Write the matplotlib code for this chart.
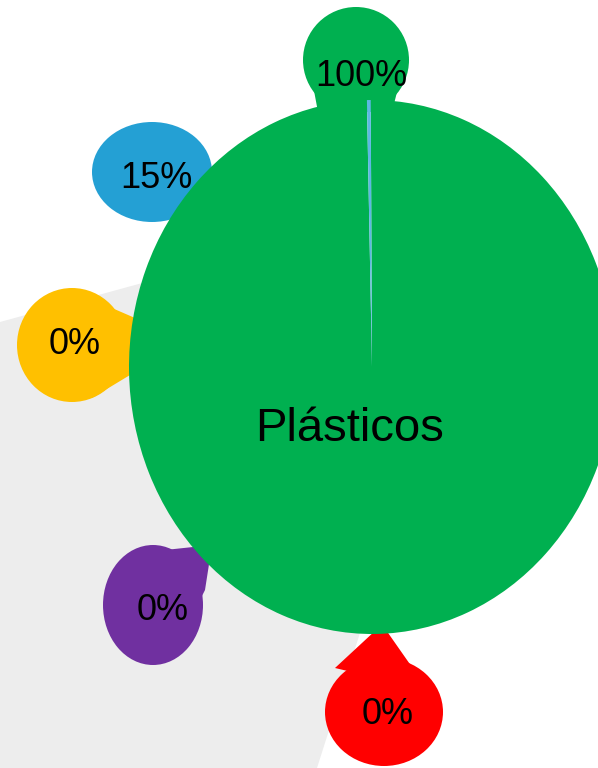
import matplotlib
matplotlib.use("Agg")
import matplotlib.pyplot as plt
from matplotlib.patches import Ellipse, Polygon

plt.rcParams['font.family'] = ['Liberation Sans', 'DejaVu Sans']

# data
center_label = "Plásticos"
pie_values = [99.75, 0.25]
pie_colors = ['#00B050', '#5DB8E2']
bubble_labels = ['100%', '15%', '0%', '0%', '0%']
bubble_colors = ['#00B050', '#24A0D4', '#FFC000', '#7030A0', '#FF0000']

# bubble layout in pixels: (cx, cy, w, h, tail polygon, label x, label y)
bubble_layout = [
    (356, 60, 106, 106, [(312, 80), (318, 112), (392, 112), (400, 80)], 361, 77),
    (152, 172, 120, 100, [(180, 140), (212, 185), (200, 225), (160, 215)], 156, 179),
    (72, 345, 110, 114, [(105, 305), (135, 318), (135, 372), (92, 398)], 75, 344),
    (153, 605, 100, 120, [(165, 550), (212, 545), (205, 590), (190, 620)], 163, 611),
    (384, 712, 118, 108, [(335, 668), (376, 630), (386, 630), (428, 690)], 388, 714),
]

fig = plt.figure(figsize=(5.98, 7.68), dpi=100)
ax = fig.add_axes([0, 0, 1, 1])
ax.set_xlim(0, 598)
ax.set_ylim(768, 0)
ax.axis('off')

# gray background shape
ax.add_patch(Polygon([(0, 322), (310, 237), (420, 400), (360, 633), (317, 768), (0, 768)],
                     closed=True, facecolor='#EDEDED', edgecolor='none'))

for (cx, cy, w, h, tail, lx, ly), color in zip(bubble_layout, bubble_colors):
    ax.add_patch(Polygon(tail, closed=True, facecolor=color, edgecolor='none'))
    ax.add_patch(Ellipse((cx, cy), w, h, facecolor=color, edgecolor='none'))

# big pie, stretched into an ellipse
left, right, top, bottom = 129, 615, 100, 634
pax = fig.add_axes([left / 598, 1 - bottom / 768, (right - left) / 598, (bottom - top) / 768])
pax.pie(pie_values, colors=pie_colors, startangle=90.3, counterclock=False,
        wedgeprops=dict(linewidth=0))
pax.set_aspect('auto')
pax.set_xlim(-1, 1)
pax.set_ylim(-1, 1)
pax.patch.set_alpha(0)

for (cx, cy, w, h, tail, lx, ly), label in zip(bubble_layout, bubble_labels):
    fig.text(lx, ly, label, transform=ax.transData, ha='center', va='center',
             fontsize=26, color='black')

fig.text(350, 429, center_label, transform=ax.transData, ha='center', va='center',
         fontsize=34, color='black')

plt.savefig("out.png", dpi=100)
plt.close()
